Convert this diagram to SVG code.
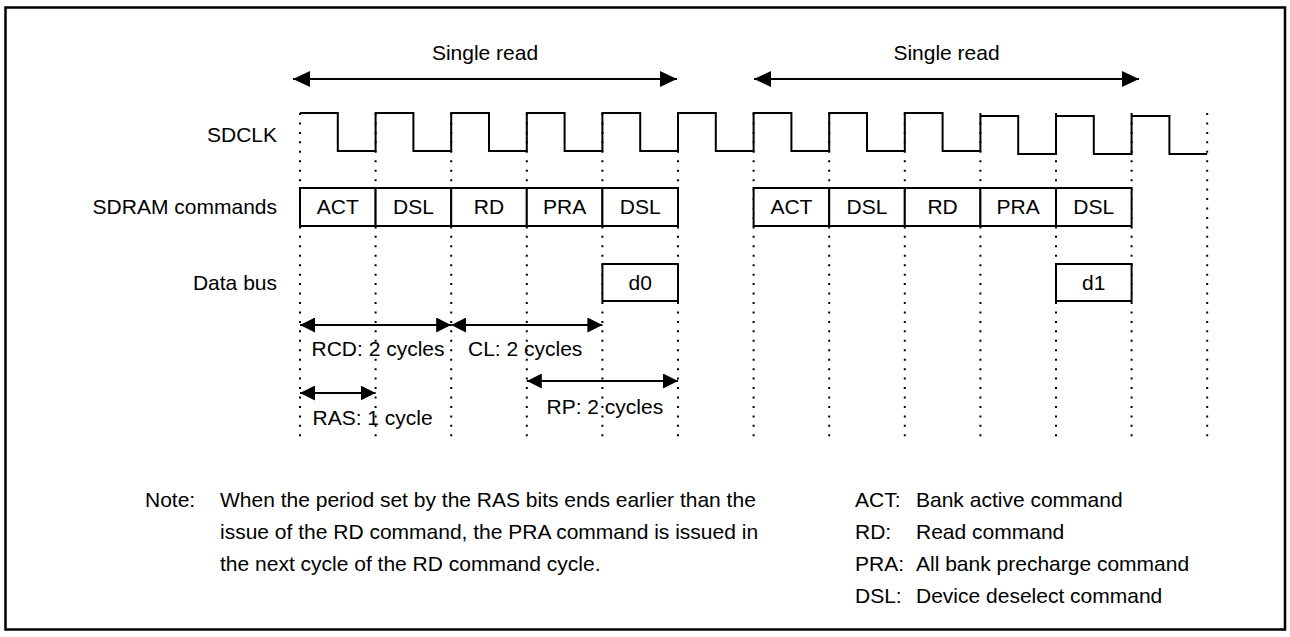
<svg xmlns="http://www.w3.org/2000/svg" width="1290" height="637" viewBox="0 0 1290 637">
<style>
text{font-family:"Liberation Sans",Arial,sans-serif;font-size:21px;fill:#000}
.lbl{text-anchor:end}
.c{text-anchor:middle}
.box{fill:#fff;stroke:#000;stroke-width:2}
.dot{stroke:#000;stroke-width:2;stroke-dasharray:2 7.45;fill:none}
.arr{stroke:#000;stroke-width:2;fill:none;marker-start:url(#ah);marker-end:url(#ah)}
.arrL{stroke:#000;stroke-width:2;fill:none;marker-start:url(#ahL);marker-end:url(#ahL)}
</style>
<defs>
<marker id="ah" viewBox="0 0 15 15" refX="15" refY="7.5" markerWidth="15" markerHeight="15" markerUnits="userSpaceOnUse" orient="auto-start-reverse"><path d="M0,0 L15,7.5 L0,15 Z" fill="#000"/></marker>
<marker id="ahL" viewBox="0 0 17 16" refX="17" refY="8" markerWidth="17" markerHeight="16" markerUnits="userSpaceOnUse" orient="auto-start-reverse"><path d="M0,0 L17,8 L0,16 Z" fill="#000"/></marker>
</defs>
<rect x="0" y="0" width="1290" height="637" fill="#fff"/>
<rect id="frame" x="5.5" y="7.5" width="1279.5" height="622" fill="none" stroke="#000" stroke-width="2.5"/>

<g id="gridlines">
<line class="dot" x1="300" y1="113" x2="300" y2="437"/>
<line class="dot" x1="375.6" y1="113" x2="375.6" y2="437"/>
<line class="dot" x1="451.2" y1="113" x2="451.2" y2="437"/>
<line class="dot" x1="526.8" y1="113" x2="526.8" y2="437"/>
<line class="dot" x1="602.4" y1="113" x2="602.4" y2="437"/>
<line class="dot" x1="678" y1="113" x2="678" y2="437"/>
<line class="dot" x1="753.6" y1="113" x2="753.6" y2="437"/>
<line class="dot" x1="829.2" y1="113" x2="829.2" y2="437"/>
<line class="dot" x1="904.8" y1="113" x2="904.8" y2="437"/>
<line class="dot" x1="980.4" y1="113" x2="980.4" y2="437"/>
<line class="dot" x1="1056" y1="113" x2="1056" y2="437"/>
<line class="dot" x1="1131.6" y1="113" x2="1131.6" y2="437"/>
<line class="dot" x1="1207.2" y1="113" x2="1207.2" y2="437"/>
</g>

<g id="signal-labels">
<text class="lbl" x="277" y="141.5">SDCLK</text>
<text class="lbl" x="277" y="214">SDRAM commands</text>
<text class="lbl" x="277" y="289.5">Data bus</text>
</g>

<g id="sdclk">
<path d="M300,113 H337.8 V151 H375.6 V113 H413.4 V151 H451.2 V113 H489 V151 H526.8 V113 H564.6 V151 H602.4 V113 H640.2 V151 H678 V113 H715.8 V151 H753.6 V113 H791.4 V151 H829.2 V113 H867 V151 H904.8 V113 H942.6 V151 H980.4 V116 H1018.2 V154 H1056 V116 H1093.8 V154 H1131.6 V116 H1169.4 V154 H1207.2" fill="none" stroke="#000" stroke-width="2"/>
</g>

<g id="cmd1-act"><rect class="box" x="300" y="188" width="75.6" height="38"/><text class="c" x="337.8" y="214">ACT</text></g>
<g id="cmd1-dsl"><rect class="box" x="375.6" y="188" width="75.6" height="38"/><text class="c" x="413.4" y="214">DSL</text></g>
<g id="cmd1-rd"><rect class="box" x="451.2" y="188" width="75.6" height="38"/><text class="c" x="489" y="214">RD</text></g>
<g id="cmd1-pra"><rect class="box" x="526.8" y="188" width="75.6" height="38"/><text class="c" x="564.6" y="214">PRA</text></g>
<g id="cmd1-dsl2"><rect class="box" x="602.4" y="188" width="75.6" height="38"/><text class="c" x="640.2" y="214">DSL</text></g>

<g id="cmd2-act"><rect class="box" x="753.6" y="188" width="75.6" height="38"/><text class="c" x="791.4" y="214">ACT</text></g>
<g id="cmd2-dsl"><rect class="box" x="829.2" y="188" width="75.6" height="38"/><text class="c" x="867" y="214">DSL</text></g>
<g id="cmd2-rd"><rect class="box" x="904.8" y="188" width="75.6" height="38"/><text class="c" x="942.6" y="214">RD</text></g>
<g id="cmd2-pra"><rect class="box" x="980.4" y="188" width="75.6" height="38"/><text class="c" x="1018.2" y="214">PRA</text></g>
<g id="cmd2-dsl2"><rect class="box" x="1056" y="188" width="75.6" height="38"/><text class="c" x="1093.8" y="214">DSL</text></g>

<g id="data-d0"><rect class="box" x="602.4" y="264" width="75.6" height="37"/><text class="c" x="640.2" y="289.5">d0</text></g>
<g id="data-d1"><rect class="box" x="1056" y="264" width="75.6" height="37"/><text class="c" x="1093.8" y="289.5">d1</text></g>

<g id="connectors">
<line class="arrL" x1="293" y1="79" x2="677" y2="79"/>
<line class="arrL" x1="754" y1="79" x2="1139" y2="79"/>
<line class="arr" x1="300" y1="325" x2="451.2" y2="325"/>
<line class="arr" x1="451.2" y1="325" x2="602.4" y2="325"/>
<line class="arr" x1="300" y1="393" x2="375.6" y2="393"/>
<line class="arr" x1="526.8" y1="381" x2="678" y2="381"/>
</g>

<g id="timing-labels">
<text class="c" x="485" y="60">Single read</text>
<text class="c" x="946.5" y="60">Single read</text>
<text x="311.5" y="356">RCD: 2 cycles</text>
<text x="468" y="356">CL: 2 cycles</text>
<text x="312.5" y="425">RAS: 1 cycle</text>
<text x="546.5" y="414">RP: 2 cycles</text>
</g>

<g id="note">
<text x="145" y="507">Note:</text>
<text x="220" y="507">When the period set by the RAS bits ends earlier than the</text>
<text x="220" y="539">issue of the RD command, the PRA command is issued in</text>
<text x="220" y="571">the next cycle of the RD command cycle.</text>
</g>

<g id="legend">
<text x="855" y="507">ACT:</text><text x="916" y="507">Bank active command</text>
<text x="855" y="539">RD:</text><text x="916" y="539">Read command</text>
<text x="855" y="571">PRA:</text><text x="916" y="571">All bank precharge command</text>
<text x="855" y="603">DSL:</text><text x="916" y="603">Device deselect command</text>
</g>
</svg>
